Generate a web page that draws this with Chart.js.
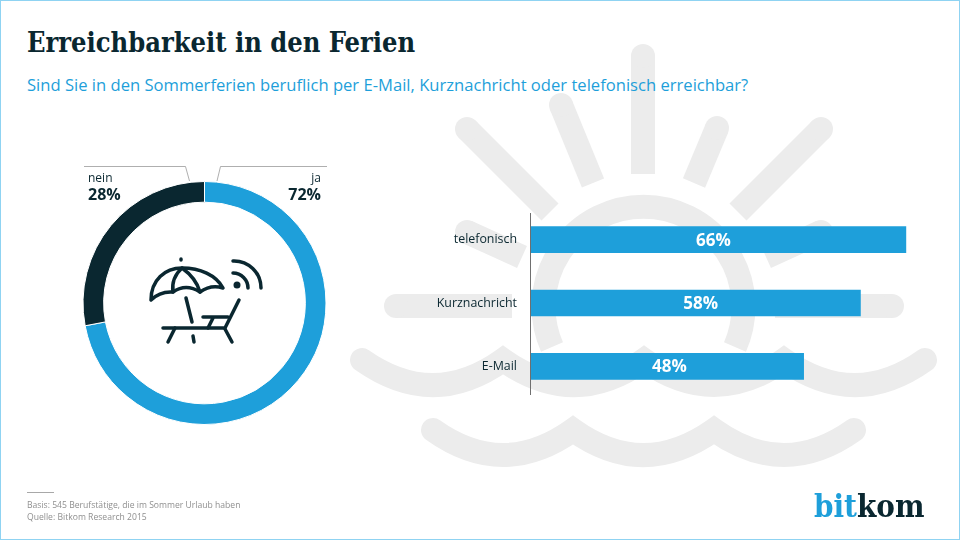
<!DOCTYPE html>
<html lang="de">
<head>
<meta charset="utf-8">
<title>Erreichbarkeit in den Ferien</title>
<script src="https://cdn.jsdelivr.net/npm/chart.js@4"></script>
<style>
  html, body { margin: 0; padding: 0; background: #fff; }
  #page { position: relative; width: 960px; height: 540px; overflow: hidden; background: #fff;
          box-sizing: border-box; border: 1px solid #8fd3f2; font-family: "Open Sans", sans-serif; }
  #page > * { position: absolute; }
  #sun { left: -1px; top: -1px; }
  #icon { left: -1px; top: -1px; }
  h1 { left: 26px; top: 26px; margin: 0; font: bold 27px "DejaVu Serif Condensed", "DejaVu Serif", serif; color: #0a2730; white-space: nowrap; }
  h2 { left: 26px; top: 72px; margin: 0; font: normal 16.6px "Open Sans", sans-serif; color: #1e9fda; white-space: nowrap; }
  #rule { left: 26px; top: 491px; width: 27px; height: 1px; background: #a8a8a8; }
  #foot { left: 26px; top: 498px; font-size: 8.6px; line-height: 12px; color: #8f8f8f; white-space: nowrap; }
  #logo { left: 813px; top: 487px; font: bold 31px "DejaVu Serif Condensed", "DejaVu Serif", serif; color: #0a2730; white-space: nowrap; }
  #logo span { color: #1e9fda; }
  #donut { left: 58px; top: 149px; }
  #bars { left: 379px; top: 189px; }
</style>
</head>
<body>
<div id="page">
  <svg id="sun" width="960" height="540" fill="none" stroke="#ececec" stroke-width="24">
    <path d="M552,347 A100,100 0 1 1 735,347"/>
    <path d="M643,56 V174"/>
    <path d="M561,105 L593,183"/>
    <path d="M717,128 L694,183"/>
    <path d="M467,129 L550,212"/>
    <path d="M821,129 L738,212"/>
    <path d="M467,232 L522,257"/>
    <path d="M821,232 L766,257"/>
    <path d="M396,306 H512"/>
    <path d="M775,306 H892"/>
    <g fill="#ececec" stroke="none">
      <circle cx="643" cy="56" r="12"/>
      <circle cx="561" cy="105" r="12"/>
      <circle cx="717" cy="128" r="12"/>
      <circle cx="467" cy="129" r="12"/>
      <circle cx="821" cy="129" r="12"/>
      <circle cx="467" cy="232" r="12"/>
      <circle cx="821" cy="232" r="12"/>
      <circle cx="396" cy="306" r="12"/>
      <circle cx="892" cy="306" r="12"/>
    </g>
    <g stroke-linecap="round">
      <path d="M362,360 Q433,410 503,360 Q574,410 644,360 Q714,410 784,360 Q855,410 925,360"/>
      <path d="M433,430 Q503,480 573,430 Q643,480 714,430 Q784,480 854,430"/>
    </g>
  </svg>
  <h1>Erreichbarkeit in den Ferien</h1>
  <h2>Sind Sie in den Sommerferien beruflich per E-Mail, Kurznachricht oder telefonisch erreichbar?</h2>
  <canvas id="donut" width="290" height="290"></canvas>
  <canvas id="bars" width="560" height="230"></canvas>
  <svg id="icon" width="960" height="540" fill="none" stroke="#0a2730" stroke-width="3.5" stroke-linecap="round" stroke-linejoin="round">
    <path d="M151,300 C151,280 165,268 182,268 C200,268 216,275 223,288 Q211,284 200,292 Q186,283 173,292 Q160,291 151,300 Z"/>
    <path d="M182,268 Q171,278 173,292 M182,268 Q196,278 200,292"/>
    <path d="M181,259 V260"/>
    <path d="M186,298 L192,322 M193,336 L194,342"/>
    <path d="M163,328 H225 L239,300"/>
    <path d="M203,317 H228 M213,318 L208,328"/>
    <path d="M175,328 L168,342 M225,329 L232,342"/>
    <path d="M233,273 A15,15 0 0 1 248,288 M233,261 A27,27 0 0 1 261,288"/>
    <circle cx="237" cy="285" r="3.5" fill="#0a2730" stroke="none"/>
  </svg>
  <div id="rule"></div>
  <div id="foot">Basis: 545 Berufstätige, die im Sommer Urlaub haben<br>Quelle: Bitkom Research 2015</div>
  <div id="logo"><span>bit</span>kom</div>
</div>

<script>
const answerLabels = ['ja', 'nein'];
const answerValues = [72, 28];
const answerColors = ['#1e9fda', '#0a2730'];

const channelLabels = ['telefonisch', 'Kurznachricht', 'E-Mail'];
const channelValues = [66, 58, 48];

const dark = '#0a2730';
const labelFont = '"Open Sans", sans-serif';
// the value labels are not quite centred in the bars
const labelNudge = [-5, 5, 2];

// leader lines and the ja / nein captions above the ring
const donutCaptions = {
  id: 'donutCaptions',
  afterDraw(chart) {
    const c = chart.ctx;
    c.save();
    c.strokeStyle = '#9a9a9a';
    c.lineWidth = 0.8;
    c.beginPath();
    c.moveTo(25, 16.5); c.lineTo(126.5, 16.5); c.lineTo(130.5, 31);
    c.moveTo(268, 16.5); c.lineTo(161.5, 16.5); c.lineTo(158, 31);
    c.stroke();
    c.fillStyle = dark;
    c.textBaseline = 'alphabetic';
    c.textAlign = 'right';
    c.font = '12px ' + labelFont;
    c.fillText(answerLabels[0], 262, 32);
    c.font = 'bold 16px ' + labelFont;
    c.fillText(answerValues[0] + '%', 262, 50);
    c.textAlign = 'left';
    c.font = '12px ' + labelFont;
    c.fillText(answerLabels[1], 29, 32);
    c.font = 'bold 16px ' + labelFont;
    c.fillText(answerValues[1] + '%', 29, 50);
    c.restore();
  }
};

// axis line is a bit shorter than the three category bands, values sit inside the bars
const barExtras = {
  id: 'barExtras',
  afterDatasetsDraw(chart) {
    const c = chart.ctx;
    const area = chart.chartArea;
    c.save();
    c.strokeStyle = '#6f6f6f';
    c.lineWidth = 1;
    c.beginPath();
    c.moveTo(area.left - 0.5, area.top + 5);
    c.lineTo(area.left - 0.5, area.bottom - 3);
    c.stroke();
    c.fillStyle = '#fff';
    c.font = 'bold 17px ' + labelFont;
    c.textAlign = 'center';
    c.textBaseline = 'middle';
    chart.getDatasetMeta(0).data.forEach((bar, i) => {
      c.fillText(channelValues[i] + '%', (bar.x + bar.base) / 2 + labelNudge[i], bar.y + 1);
    });
    c.restore();
  }
};

new Chart(document.getElementById('donut'), {
  type: 'doughnut',
  data: {
    labels: answerLabels,
    datasets: [{
      data: answerValues,
      backgroundColor: answerColors,
      borderColor: '#fff',
      borderWidth: 1
    }]
  },
  options: {
    responsive: false,
    animation: false,
    cutout: '83%',
    layout: { padding: { left: 23, right: 22, top: 31, bottom: 15 } },
    plugins: { legend: { display: false }, tooltip: { enabled: false } }
  },
  plugins: [donutCaptions]
});

new Chart(document.getElementById('bars'), {
  type: 'bar',
  data: {
    labels: channelLabels,
    datasets: [{
      data: channelValues,
      backgroundColor: '#1e9fda',
      borderWidth: 0,
      barThickness: 26
    }]
  },
  options: {
    indexAxis: 'y',
    responsive: false,
    animation: false,
    layout: { padding: { top: 18, bottom: 22, right: 11.4 } },
    scales: {
      x: { display: false, min: 0, max: 70 },
      y: {
        afterFit(scale) { scale.width = 151; },
        grid: { display: false },
        border: { display: false },
        ticks: { color: dark, padding: 6, font: { family: labelFont, size: 12.4 } }
      }
    },
    plugins: { legend: { display: false }, tooltip: { enabled: false } }
  },
  plugins: [barExtras]
});
</script>
</body>
</html>
